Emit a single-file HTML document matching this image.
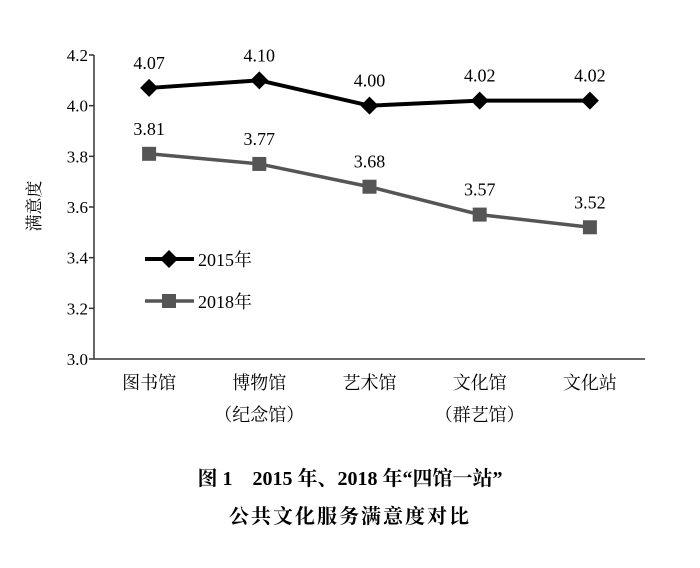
<!DOCTYPE html>
<html><head><meta charset="utf-8"><style>
body{margin:0;background:#fff;}
svg text{font-family:"Liberation Serif","Noto Serif CJK SC",serif;}
</style></head><body>
<svg width="700" height="563" viewBox="0 0 700 563">
<g id="axes"></g>
<g id="series"></g>
<text x="40" y="206" font-size="17" transform="rotate(-90 40 206)" text-anchor="middle">满意度</text>
<g>
<line x1="145" y1="259" x2="194" y2="259" stroke="#000" stroke-width="4"/>
<path d="M169 250 L178 259 L169 268 L160 259Z" fill="#000"/>
<text x="198" y="266" font-size="18">2015年</text>
<line x1="145" y1="301" x2="194" y2="301" stroke="#555" stroke-width="3.5"/>
<rect x="162" y="294" width="14" height="14" fill="#555"/>
<text x="198" y="308" font-size="18">2018年</text>
</g>
<text x="350" y="485" font-size="20" font-weight="bold" text-anchor="middle">图 1　2015 年、2018 年“四馆一站”</text>
<text x="350" y="523" font-size="20" font-weight="bold" text-anchor="middle" letter-spacing="2">公共文化服务满意度对比</text>
</svg>
<script>
const categories=["图书馆","博物馆","艺术馆","文化馆","文化站"];
const subLabels=["","（纪念馆）","","（群艺馆）",""];
const values2015=[4.07,4.10,4.00,4.02,4.02];
const values2018=[3.81,3.77,3.68,3.57,3.52];
const yTicks=[3.0,3.2,3.4,3.6,3.8,4.0,4.2];
const NS="http://www.w3.org/2000/svg";
const x0=94,x1=645,yb=359,yt=55,vmin=3.0,vmax=4.2;
const xs=i=>x0+(x1-x0)/categories.length*(i+0.5);
const ys=v=>yb-(v-vmin)/(vmax-vmin)*(yb-yt);
function mk(tag,attrs,parent){const e=document.createElementNS(NS,tag);for(const k in attrs)e.setAttribute(k,attrs[k]);parent.appendChild(e);return e;}
const ax=document.getElementById('axes');
let l=mk('line',{x1:x0,y1:yt,x2:x0,y2:yb,stroke:'#333','stroke-width':1.5},ax);


l=mk('line',{x1:x0,y1:yb,x2:x1,y2:yb,stroke:'#333','stroke-width':1.5},ax);


yTicks.forEach(v=>{
 mk('line',{x1:x0-5,y1:ys(v),x2:x0,y2:ys(v),stroke:'#333','stroke-width':1.5},ax);
 const t=mk('text',{x:x0-6,y:ys(v)+6,'font-size':17,'text-anchor':'end'},ax);
 t.textContent=v.toFixed(1);
 
 
});
categories.forEach((c,i)=>{
 const t=mk('text',{x:xs(i),y:389,'font-size':18,'text-anchor':'middle'},ax);
 t.textContent=c;
 
 
 if(subLabels[i]){const s=mk('text',{x:xs(i),y:421,'font-size':18,'text-anchor':'middle'},ax);
 s.textContent=subLabels[i];
 
 }
});
const sg=document.getElementById('series');
function series(vals,color,w,shape,name){
 const p=mk('polyline',{points:vals.map((v,i)=>xs(i)+','+ys(v)).join(' '),fill:'none',stroke:color,'stroke-width':w},sg);
 
 
 vals.forEach((v,i)=>{
  const x=xs(i),y=ys(v);let m;
  if(shape==='d')m=mk('path',{d:`M${x} ${y-9}L${x+9} ${y}L${x} ${y+9}L${x-9} ${y}Z`,fill:color},sg);
  else m=mk('rect',{x:x-7,y:y-7,width:14,height:14,fill:color},sg);
  
  
  const t=mk('text',{x:x,y:y-19,'font-size':18,'text-anchor':'middle'},sg);
  t.textContent=v.toFixed(2);
  
  
 });
}
series(values2015,'#000',4,'d','series-2015');
series(values2018,'#555',3.5,'s','series-2018');
</script>
</body></html>
